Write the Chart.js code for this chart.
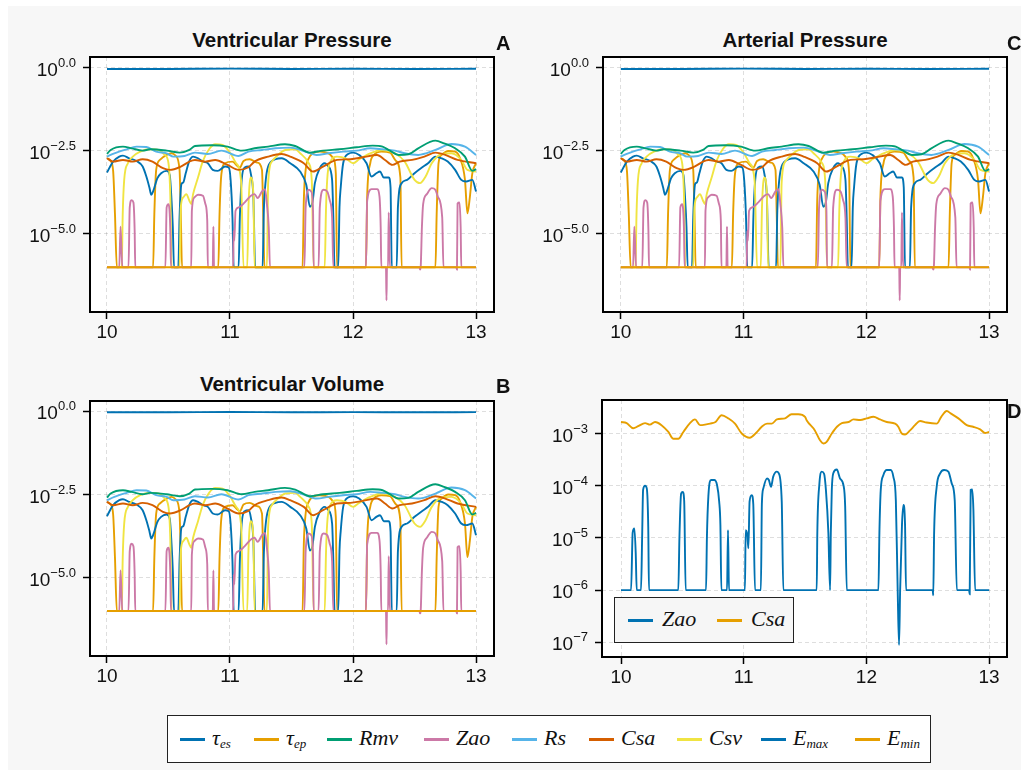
<!DOCTYPE html>
<html>
<head>
<meta charset="utf-8">
<script src="https://cdn.jsdelivr.net/npm/chart.js@4.4.0/dist/chart.umd.min.js"></script>
<style>
  body { margin: 0; background: #fff; }
  #fig { position: relative; width: 1029px; height: 776px; overflow: hidden; font-family: "Liberation Sans", Arial, sans-serif; color: #111; }
  #bg { position: absolute; left: 8px; top: 6px; width: 1013px; height: 764px; background: #f7f7f7; }
  .panel { position: absolute; }
  .title { position: absolute; font-weight: bold; font-size: 20.5px; text-align: center; line-height: 24px; }
  .tag { position: absolute; font-weight: bold; font-size: 20px; line-height: 24px; z-index: 2; }
  .math { position: absolute; font-family: "Liberation Serif", "DejaVu Serif", serif; font-style: italic; font-size: 22px; line-height: 24px; white-space: nowrap; }
  .math sub { font-size: 13px; vertical-align: -3px; }
  .sw { position: absolute; width: 25px; height: 2.5px; }
  #legend { position: absolute; left: 167px; top: 715px; width: 762px; height: 46px; border: 1px solid #222; background: #fff; }
  #legendD { position: absolute; left: 614px; top: 597px; width: 178px; height: 44px; border: 1px solid #222; background: #f6f6f6; z-index: 2; }
</style>
</head>
<body>
<div id="fig">
  <div id="bg"></div>
  <div class="title" style="left:90px;top:28px;width:404px;">Ventricular Pressure</div>
  <div class="title" style="left:603px;top:28px;width:404px;">Arterial Pressure</div>
  <div class="title" style="left:90px;top:372px;width:404px;">Ventricular Volume</div>

  <div class="panel" style="left:0;top:50px;width:510px;height:300px;"><canvas id="chartA"></canvas></div>
  <div class="panel" style="left:513px;top:50px;width:510px;height:300px;"><canvas id="chartC"></canvas></div>
  <div class="panel" style="left:0;top:394px;width:510px;height:300px;"><canvas id="chartB"></canvas></div>
  <div class="panel" style="left:512px;top:393px;width:511px;height:302px;"><canvas id="chartD"></canvas></div>

  <div class="tag" style="left:496px;top:31px;">A</div>
  <div class="tag" style="left:1007px;top:31px;">C</div>
  <div class="tag" style="left:496px;top:374px;">B</div>
  <div class="tag" style="left:1007px;top:399px;">D</div>

  <div id="legendD"></div>
  <div id="legend"></div>
</div>

<script>
// values are [time, log10(value)] pairs
const xTicks = [10, 11, 12, 13];
const yTickExpABC = [0, -2.5, -5];
const yTickExpD = [-3, -4, -5, -6, -7];

const tauEs = [[10,-0.03],[10.5,-0.03],[11,-0.02],[11.5,-0.03],[12,-0.025],[12.5,-0.03],[13,-0.025]];
const tauEp = [[10,-6],[13,-6]];

const rmv = [[10.0,-2.59],[10.03,-2.47],[10.13,-2.37],[10.2,-2.42],[10.29,-2.49],[10.35,-2.45],[10.485,-2.49],
  [10.59,-2.55],[10.67,-2.47],[10.715,-2.35],[10.85,-2.33],[10.98,-2.37],[11.095,-2.49],[11.2,-2.42],[11.31,-2.37],
  [11.447,-2.30],[11.53,-2.35],[11.65,-2.55],[11.756,-2.49],[11.89,-2.45],[12.03,-2.39],[12.16,-2.34],[12.24,-2.37],
  [12.3,-2.49],[12.37,-2.62],[12.45,-2.6],[12.53,-2.42],[12.67,-2.19],[12.74,-2.27],[12.83,-2.42],[12.91,-2.67],
  [12.97,-3.1],[13.0,-3.05]];

const zao = [[10.0,-6],[10.10,-6],[10.11,-4.78],[10.125,-6],[10.175,-6],[10.185,-4.2],[10.2,-3.98],[10.215,-4.05],
  [10.225,-4.9],[10.23,-6],[10.475,-6],[10.485,-4.2],[10.5,-4.1],[10.515,-4.9],[10.52,-6],[10.685,-6],[10.69,-4.3],
  [10.71,-3.9],[10.74,-3.82],[10.78,-3.85],[10.80,-4.1],[10.815,-4.6],[10.82,-6],[10.86,-6],[10.865,-4.78],[10.87,-6],
  [11.025,-6],[11.03,-4.9],[11.035,-5.2],[11.045,-4.3],[11.07,-4.2],[11.12,-4.05],[11.17,-3.85],[11.2,-3.8],
  [11.225,-3.92],[11.26,-3.72],[11.285,-3.65],[11.30,-4.1],[11.315,-4.8],[11.325,-6],[11.605,-6],[11.615,-4.2],
  [11.64,-3.67],[11.66,-3.72],[11.675,-4.3],[11.68,-6],[11.72,-6],[11.73,-4.2],[11.76,-3.67],[11.79,-3.72],
  [11.81,-3.97],[11.83,-4.5],[11.84,-6],[12.105,-6],[12.115,-4.0],[12.15,-3.65],[12.195,-3.65],[12.215,-3.87],
  [12.225,-4.8],[12.23,-6],[12.268,-6],[12.272,-7.0],[12.276,-6],[12.285,-6],[12.29,-4.35],[12.3,-6],[12.54,-6],
  [12.545,-6.07],[12.55,-6],[12.56,-4.8],[12.57,-4.1],[12.6,-3.8],[12.64,-3.62],[12.67,-3.67],[12.69,-3.88],
  [12.725,-4.5],[12.735,-6],[12.84,-6],[12.845,-6.07],[12.85,-4.08],[12.865,-4.05],[12.875,-4.8],[12.88,-6],[13.0,-6]];

const rs = [[10.0,-2.67],[10.06,-2.57],[10.16,-2.45],[10.24,-2.37],[10.32,-2.38],[10.40,-2.52],[10.485,-2.57],
  [10.54,-2.67],[10.63,-2.65],[10.715,-2.55],[10.82,-2.59],[10.93,-2.49],[11.07,-2.65],[11.15,-2.52],[11.26,-2.47],
  [11.37,-2.42],[11.49,-2.4],[11.6,-2.5],[11.705,-2.62],[11.8,-2.57],[11.92,-2.52],[12.03,-2.49],[12.14,-2.42],
  [12.24,-2.45],[12.34,-2.49],[12.42,-2.57],[12.53,-2.62],[12.67,-2.47],[12.80,-2.29],[12.91,-2.37],[13.0,-2.62]];

const csa = [[10.0,-2.72],[10.05,-2.82],[10.13,-2.77],[10.21,-2.82],[10.29,-2.75],[10.37,-2.82],[10.455,-3.02],
  [10.51,-3.07],[10.6,-2.97],[10.67,-2.82],[10.715,-2.77],[10.80,-2.82],[10.88,-2.77],[10.98,-2.92],[11.07,-3.07],
  [11.15,-2.99],[11.2,-2.82],[11.31,-2.67],[11.42,-2.59],[11.49,-2.67],[11.6,-2.87],[11.675,-3.12],[11.756,-2.97],
  [11.87,-2.77],[11.98,-2.75],[12.08,-2.69],[12.195,-2.62],[12.26,-2.77],[12.32,-2.92],[12.38,-2.82],[12.48,-2.77],
  [12.58,-2.67],[12.67,-2.55],[12.75,-2.62],[12.85,-2.77],[13.0,-2.87]];

const csv = [[10.0,-6],[10.12,-6],[10.128,-4.4],[10.14,-3.37],[10.17,-2.87],[10.21,-2.67],[10.27,-2.52],[10.35,-2.45],
  [10.42,-2.47],[10.47,-2.62],[10.5,-2.87],[10.515,-3.88],[10.525,-6],[10.59,-6],[10.60,-4.2],[10.62,-3.9],
  [10.645,-3.8],[10.67,-4.0],[10.685,-4.1],[10.70,-3.8],[10.74,-3.3],[10.78,-2.8],[10.83,-2.45],[10.88,-2.3],
  [10.94,-2.32],[11.0,-2.55],[11.05,-2.87],[11.09,-3.4],[11.11,-6],[11.14,-6],[11.15,-4.2],[11.17,-3.3],[11.19,-3.8],
  [11.2,-6],[11.3,-6],[11.31,-3.47],[11.34,-2.82],[11.39,-2.62],[11.45,-2.47],[11.53,-2.45],[11.57,-2.57],
  [11.64,-2.87],[11.665,-3.4],[11.68,-6],[11.77,-6],[11.78,-4.3],[11.79,-3.37],[11.81,-2.87],[11.87,-2.67],
  [11.94,-2.72],[12.0,-2.87],[12.05,-2.75],[12.14,-2.57],[12.24,-2.47],[12.34,-2.57],[12.42,-2.82],[12.5,-3.37],
  [12.545,-3.47],[12.59,-3.27],[12.64,-2.87],[12.72,-2.59],[12.8,-2.57],[12.88,-2.77],[12.93,-3.07],[13.0,-3.12]];

const eMax = [[10.0,-3.15],[10.05,-2.82],[10.1,-2.67],[10.13,-2.64],[10.18,-2.72],[10.24,-2.8],[10.29,-2.97],
  [10.32,-3.27],[10.345,-3.6],[10.36,-3.82],[10.375,-3.72],[10.41,-3.32],[10.44,-3.17],[10.485,-3.1],[10.51,-3.22],
  [10.525,-4.0],[10.535,-4.78],[10.545,-6],[10.58,-6],[10.59,-4.5],[10.605,-3.5],[10.62,-3.45],[10.64,-3.17],
  [10.67,-2.8],[10.70,-2.67],[10.74,-2.72],[10.78,-2.82],[10.82,-2.87],[10.86,-3.07],[10.9,-3.1],[10.96,-2.97],
  [10.99,-3.0],[11.005,-3.37],[11.02,-4.5],[11.03,-6],[11.07,-6],[11.08,-4.5],[11.095,-3.37],[11.12,-3.0],
  [11.15,-2.97],[11.17,-3.2],[11.19,-3.9],[11.205,-6],[11.265,-6],[11.275,-4.3],[11.29,-3.4],[11.31,-2.97],
  [11.37,-2.75],[11.42,-2.72],[11.49,-2.87],[11.57,-3.12],[11.62,-3.52],[11.65,-4.18],[11.67,-4.05],[11.69,-3.47],
  [11.73,-3.02],[11.77,-2.87],[11.8,-2.97],[11.83,-3.37],[11.84,-4.5],[11.85,-6],[11.88,-6],[11.89,-4.2],[11.9,-3.6],
  [11.92,-2.87],[11.96,-2.59],[12.0,-2.55],[12.05,-2.62],[12.11,-2.87],[12.15,-3.27],[12.19,-3.17],[12.22,-3.12],
  [12.25,-3.3],[12.29,-3.3],[12.305,-3.6],[12.315,-6],[12.355,-6],[12.365,-4.2],[12.395,-3.47],[12.44,-3.37],
  [12.5,-3.17],[12.56,-3.0],[12.61,-2.87],[12.67,-2.67],[12.72,-2.72],[12.77,-2.82],[12.83,-3.07],[12.88,-3.37],
  [12.92,-3.42],[12.97,-3.37],[13.0,-3.72]];

const eMin = [[10.0,-2.72],[10.03,-2.8],[10.05,-3.1],[10.065,-4.4],[10.08,-6],[10.375,-6],[10.385,-4.4],[10.40,-3.07],
  [10.43,-2.77],[10.485,-2.62],[10.525,-2.57],[10.56,-2.65],[10.59,-3.07],[10.60,-4.4],[10.61,-6],[10.905,-6],
  [10.915,-4.4],[10.93,-3.2],[10.96,-2.87],[11.02,-2.82],[11.06,-2.95],[11.08,-3.0],[11.11,-2.8],[11.16,-2.75],
  [11.22,-2.85],[11.26,-3.07],[11.27,-4.4],[11.28,-6],[11.59,-6],[11.60,-4.0],[11.615,-3.07],[11.64,-2.72],
  [11.675,-2.57],[11.73,-2.52],[11.8,-2.57],[11.84,-2.72],[11.86,-3.17],[11.87,-6],[12.105,-6],[12.115,-3.88],
  [12.14,-2.87],[12.17,-2.62],[12.23,-2.52],[12.3,-2.55],[12.35,-2.8],[12.385,-3.3],[12.395,-6],[12.67,-6],
  [12.68,-4.4],[12.695,-2.87],[12.72,-2.62],[12.775,-2.5],[12.83,-2.52],[12.87,-2.72],[12.91,-3.37],[12.93,-4.38],
  [12.95,-3.88],[12.97,-3.17],[13.0,-2.87]];

// panel D
const zaoD = [[10.0,-6],[10.082,-6],[10.095,-4.9],[10.109,-4.82],[10.12,-5.3],[10.128,-6],[10.163,-6],[10.172,-5.0],
  [10.18,-4.08],[10.196,-4.0],[10.21,-4.05],[10.222,-4.8],[10.228,-6],[10.467,-6],[10.476,-5.0],[10.49,-4.15],
  [10.503,-4.12],[10.515,-4.3],[10.527,-6],[10.693,-6],[10.70,-5.0],[10.712,-4.2],[10.734,-3.89],[10.76,-3.89],
  [10.783,-3.99],[10.80,-4.3],[10.81,-4.75],[10.818,-6],[10.864,-6],[10.872,-4.85],[10.88,-6],[11.01,-6],
  [11.016,-4.85],[11.03,-4.95],[11.038,-5.2],[11.048,-4.3],[11.065,-4.18],[11.078,-4.35],[11.092,-6],[11.14,-6],
  [11.148,-4.35],[11.16,-4.05],[11.19,-3.86],[11.205,-3.89],[11.223,-4.02],[11.24,-3.83],[11.27,-3.73],
  [11.285,-3.76],[11.31,-4.3],[11.323,-6],[11.595,-6],[11.6,-4.9],[11.617,-3.96],[11.636,-3.73],[11.655,-3.77],
  [11.67,-4.08],[11.69,-4.9],[11.704,-6],[11.71,-4.9],[11.718,-4.08],[11.73,-3.76],[11.759,-3.69],[11.785,-3.86],
  [11.813,-3.99],[11.827,-4.4],[11.84,-6],[12.098,-6],[12.106,-4.9],[12.117,-4.08],[12.138,-3.8],[12.166,-3.7],
  [12.198,-3.7],[12.22,-3.83],[12.24,-4.28],[12.255,-6],[12.266,-7.05],[12.275,-6],[12.29,-4.75],[12.302,-4.37],
  [12.315,-4.75],[12.323,-6],[12.54,-6],[12.545,-6.1],[12.552,-4.9],[12.573,-4.02],[12.6,-3.77],[12.633,-3.7],
  [12.668,-3.73],[12.696,-3.96],[12.72,-4.28],[12.737,-6],[12.837,-6],[12.842,-6.08],[12.85,-4.08],[12.862,-4.07],
  [12.872,-4.45],[12.886,-6],[13.0,-6]];

const csaD = [[10.0,-2.78],[10.046,-2.80],[10.1,-2.9],[10.14,-2.86],[10.196,-2.8],[10.236,-2.83],[10.277,-2.78],
  [10.33,-2.84],[10.386,-2.97],[10.427,-3.1],[10.467,-3.1],[10.508,-2.97],[10.562,-2.8],[10.603,-2.73],
  [10.644,-2.84],[10.685,-2.83],[10.726,-2.81],[10.77,-2.78],[10.82,-2.65],[10.875,-2.71],[10.929,-2.81],
  [10.984,-3.0],[11.05,-3.08],[11.1,-2.99],[11.147,-2.87],[11.19,-2.81],[11.23,-2.81],[11.27,-2.73],[11.337,-2.71],
  [11.39,-2.63],[11.445,-2.63],[11.5,-2.68],[11.514,-2.75],[11.58,-2.94],[11.622,-3.13],[11.649,-3.19],
  [11.676,-3.16],[11.718,-3.0],[11.76,-2.87],[11.8,-2.8],[11.855,-2.78],[11.894,-2.73],[11.95,-2.74],
  [12.003,-2.71],[12.057,-2.68],[12.111,-2.73],[12.166,-2.78],[12.234,-2.81],[12.26,-2.87],[12.288,-3.0],
  [12.315,-3.02],[12.356,-2.94],[12.396,-2.84],[12.437,-2.76],[12.49,-2.79],[12.573,-2.81],[12.61,-2.68],
  [12.655,-2.57],[12.69,-2.62],[12.75,-2.71],[12.818,-2.84],[12.87,-2.87],[12.927,-2.92],[12.967,-2.99],[13.0,-2.97]];

const pts = arr => arr.map(([t, e]) => ({ x: t, y: Math.pow(10, e) }));

const mainSeries = [
  { label: 'τ<sub>es</sub>', data: tauEs, color: '#0072B2' },
  { label: 'τ<sub>ep</sub>', data: tauEp, color: '#E69F00' },
  { label: 'Rmv', data: rmv, color: '#009E73' },
  { label: 'Zao', data: zao, color: '#CC79A7' },
  { label: 'Rs', data: rs, color: '#56B4E9' },
  { label: 'Csa', data: csa, color: '#D55E00' },
  { label: 'Csv', data: csv, color: '#F0E442' },
  { label: 'E<sub>max</sub>', data: eMax, color: '#0072B2' },
  { label: 'E<sub>min</sub>', data: eMin, color: '#E69F00' }
];
const dSeries = [
  { label: 'Zao', data: zaoD, color: '#0072B2' },
  { label: 'Csa', data: csaD, color: '#E69F00' }
];

// legend entries: swatch left edges inside each legend box
const legendSwatchX = [12, 86, 159, 256, 344, 421, 509, 593, 687];
const legendDSwatchX = [13, 102];

function buildLegend(boxId, series, xs, labelGap) {
  const box = document.getElementById(boxId);
  const mid = box.clientHeight / 2;
  series.forEach((s, i) => {
    const sw = document.createElement('span');
    sw.className = 'sw';
    sw.style.background = s.color;
    sw.style.left = xs[i] + 'px';
    sw.style.top = (mid - 1) + 'px';
    box.appendChild(sw);
    const lab = document.createElement('span');
    lab.className = 'math';
    lab.innerHTML = s.label;
    lab.style.left = (xs[i] + 25 + labelGap) + 'px';
    lab.style.top = (mid - 13) + 'px';
    box.appendChild(lab);
  });
}
buildLegend('legend', mainSeries, legendSwatchX, 7);
buildLegend('legendD', dSeries, legendDSwatchX, 9);

const panelPlugin = {
  id: 'panelLook',
  beforeDraw(chart) {
    const a = chart.chartArea, ctx = chart.ctx;
    ctx.save();
    ctx.fillStyle = '#fff';
    ctx.fillRect(a.left, a.top, a.right - a.left, a.bottom - a.top);
    ctx.restore();
  },
  afterDraw(chart) {
    const a = chart.chartArea, ctx = chart.ctx, y = chart.scales.y;
    const digits = chart.options.plugins.panelLook.digits;
    ctx.save();
    ctx.strokeStyle = '#000';
    ctx.lineWidth = 2;
    ctx.strokeRect(a.left, a.top, a.right - a.left, a.bottom - a.top);
    ctx.fillStyle = '#111';
    y.ticks.forEach(t => {
      const py = y.getPixelForValue(t.value);
      const e = Math.log10(t.value);
      const exp = (e < -1e-9 ? '\u2212' : '') + Math.abs(e).toFixed(digits);
      const right = a.left - 14;
      ctx.font = '13px "Liberation Sans", Arial, sans-serif';
      const ew = ctx.measureText(exp).width;
      ctx.textAlign = 'left';
      ctx.textBaseline = 'alphabetic';
      ctx.fillText(exp, right - ew, py - 1);
      ctx.font = '19px "Liberation Sans", Arial, sans-serif';
      ctx.textAlign = 'right';
      ctx.fillText('10', right - ew, py + 8);
    });
    ctx.restore();
  }
};

function makeChart(id, series, yMinExp, yMaxExp, tickExps, digits, xMin) {
  return new Chart(document.getElementById(id), {
    type: 'line',
    data: {
      datasets: series.map(s => ({
        label: s.label,
        data: pts(s.data),
        borderColor: s.color,
        backgroundColor: s.color,
        borderWidth: 1.9,
        pointRadius: 0,
        cubicInterpolationMode: 'monotone',
        fill: false
      }))
    },
    options: {
      responsive: true,
      maintainAspectRatio: false,
      animation: false,
      layout: { padding: { top: 7, right: 16, left: 0, bottom: 0 } },
      scales: {
        x: {
          type: 'linear', min: xMin, max: 13.146,
          afterBuildTicks: s => { s.ticks = xTicks.map(v => ({ value: v })); },
          afterFit: s => { s.height = 38; },
          grid: { color: 'rgba(0,0,0,0.13)', tickColor: '#000', tickLength: 7, tickWidth: 1.5, lineWidth: 1 },
          border: { display: false, dash: [4, 3] },
          ticks: { color: '#111', autoSkip: false, maxRotation: 0, padding: 2,
                   font: { family: '"Liberation Sans", Arial, sans-serif', size: 19 }, callback: v => String(v) }
        },
        y: {
          type: 'logarithmic', min: Math.pow(10, yMinExp), max: Math.pow(10, yMaxExp),
          afterBuildTicks: s => { s.ticks = tickExps.map(e => ({ value: Math.pow(10, e) })); },
          afterFit: s => { s.width = 90; },
          grid: { color: 'rgba(0,0,0,0.13)', tickColor: '#000', tickLength: 7, tickWidth: 1.5, lineWidth: 1 },
          border: { display: false, dash: [4, 3] },
          ticks: { display: false }
        }
      },
      plugins: {
        legend: { display: false },
        tooltip: { enabled: false },
        panelLook: { digits: digits }
      }
    },
    plugins: [panelPlugin]
  });
}

makeChart('chartA', mainSeries, -7.35, 0.33, yTickExpABC, 1, 9.862);
makeChart('chartC', mainSeries, -7.35, 0.33, yTickExpABC, 1, 9.855);
makeChart('chartB', mainSeries, -7.35, 0.31, yTickExpABC, 1, 9.862);
makeChart('chartD', dSeries, -7.28, -2.358, yTickExpD, 0, 9.845);
</script>
</body>
</html>
